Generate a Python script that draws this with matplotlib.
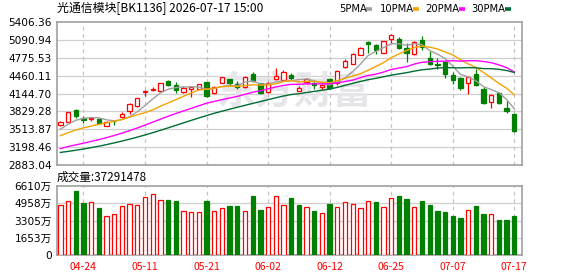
import numpy as np
import pandas as pd
import matplotlib
matplotlib.use("Agg")
import matplotlib.pyplot as plt
from matplotlib.lines import Line2D

# ---------------- data ----------------
title = "光通信模块[BK1136] 2026-07-17 15:00"
vol_title = "成交量:37291478"
watermark = "东方财富"
date_labels = ["04-24", "05-11", "05-21", "06-02", "06-12", "06-25", "07-07", "07-17"]
date_idx = [3, 11, 19, 27, 35, 43, 51, 59]
price_ticks = [2883.04, 3198.46, 3513.87, 3829.28, 4144.70, 4460.11, 4775.53, 5090.94, 5406.36]
price_tick_labels = ["2883.04", "3198.46", "3513.87", "3829.28", "4144.70",
                     "4460.11", "4775.53", "5090.94", "5406.36"]
vol_ticks = [0, 1653, 3305, 4958, 6610]
vol_tick_labels = ["0", "1653万", "3305万", "4958万", "6610万"]
legend_names = ["5PMA", "10PMA", "20PMA", "30PMA"]

opens = [3586, 3645, 3848, 3714, 3691, 3697, 3569, 3668, 3726, 3831,
         3930, 4168, 4214, 4185, 4366, 4296, 4168, 4220, 4226, 4348,
         4150, 4336, 4401, 4313, 4267, 4488, 4325, 4168, 4395, 4377,
         4470, 4197, 4348, 4336, 4255, 4401, 4336, 4604, 4674, 4831,
         5046, 4999, 4866, 5104, 5110, 4947, 4848, 5081, 4767, 4662,
         4703, 4470, 4424, 4325, 4488, 4232, 3988, 4156, 3883, 3790]
highs = [3656, 3825, 3877, 3749, 3738, 3709, 3656, 3680, 3819, 3976,
         4069, 4214, 4267, 4331, 4377, 4348, 4284, 4267, 4313, 4354,
         4278, 4441, 4406, 4371, 4447, 4523, 4336, 4354, 4587, 4558,
         4511, 4279, 4412, 4354, 4307, 4418, 4558, 4749, 4854, 4964,
         5063, 5023, 5069, 5197, 5139, 5040, 5075, 5168, 4889, 4778,
         4714, 4528, 4435, 4453, 4581, 4267, 4139, 4168, 4005, 3801]
lows = [3569, 3638, 3709, 3627, 3656, 3616, 3563, 3592, 3720, 3790,
        3906, 4092, 4180, 4185, 4278, 4150, 4162, 4075, 4220, 4075,
        4144, 4325, 4278, 4232, 4244, 4354, 4139, 4156, 4383, 4366,
        4383, 4191, 4313, 4220, 4209, 4220, 4296, 4587, 4668, 4825,
        4860, 4842, 4860, 5034, 4935, 4703, 4831, 4918, 4656, 4569,
        4412, 4313, 4209, 4139, 4284, 3953, 3883, 3959, 3796, 3465]
closes = [3645, 3819, 3743, 3685, 3709, 3621, 3645, 3656, 3784, 3964,
          4063, 4191, 4232, 4325, 4290, 4209, 4238, 4255, 4307, 4092,
          4267, 4430, 4336, 4267, 4435, 4360, 4162, 4325, 4453, 4517,
          4412, 4238, 4395, 4290, 4300, 4249, 4546, 4726, 4837, 4953,
          5011, 4906, 5063, 5185, 4947, 4866, 5057, 4964, 4674, 4639,
          4482, 4383, 4238, 4441, 4302, 3970, 4116, 3970, 3836, 3488]
volumes = [4767, 5180, 6133, 4989, 5085, 4513, 3718, 3909, 4671, 4894,
           4767, 5529, 5815, 5243, 5275, 5180, 4227, 4131, 4131, 5180,
           4227, 4481, 4703, 4703, 4227, 5657, 4322, 4576, 5625, 4767,
           5466, 4799, 4576, 4227, 4004, 4894, 4576, 5053, 4862, 4481,
           5148, 5085, 4576, 5434, 5657, 5371, 4576, 5180, 4799, 4227,
           4131, 3750, 3559, 4290, 4703, 3941, 3909, 3369, 3369, 3729]

# moving-average values at the left edge (history before the window)
ma5_head = [3515, 3600, 3672, 3705]
ma10_head = [3400, 3452, 3500, 3538, 3570, 3600, 3627, 3655, 3686]
ma20_head = [3172, 3209, 3238, 3268, 3299, 3331, 3366, 3404, 3445, 3489,
             3537, 3587, 3639, 3691, 3743, 3791, 3837, 3882, 3928]
ma30_head = [3105, 3123, 3143, 3165, 3189, 3215, 3243, 3273, 3305, 3339,
             3375, 3413, 3453, 3495, 3538, 3582, 3626, 3670, 3713, 3755,
             3796, 3832, 3867, 3902, 3936, 3970, 4003, 4036, 4069]

# ---------------- styles ----------------
RED = "#ff0000"
GREEN = "#008000"
ma_colors = ["#a0a0a0", "#f5a300", "#ff00ff", "#006c33"]
GRID = "#cfcfcf"
SPINE = "#a0a0a0"
CJK = ["Noto Sans CJK SC", "DejaVu Sans"]
NUM = ["DejaVu Sans", "Noto Sans CJK SC"]

W, H = 578, 276
fig = plt.figure(figsize=(W / 100, H / 100), dpi=100)
fig.patch.set_facecolor("white")

def fx(px):
    return px / W

def fy(py):
    return 1 - py / H

L, R = 56.5, 522.0
ax = fig.add_axes([fx(L), fy(165), fx(R) - fx(L), fy(22) - fy(165)])
axv = fig.add_axes([fx(L), fy(255.3), fx(R) - fx(L), fy(186) - fy(255.3)])

n = len(closes)
x = np.arange(n)
o = np.array(opens, float)
h = np.array(highs, float)
lo = np.array(lows, float)
c = np.array(closes, float)
v = np.array(volumes, float)

up = c >= o
# wicks
ax.vlines(x, lo, h, colors=[RED if u else GREEN for u in up], linewidth=0.9, zorder=3)
# bodies
body_bottom = np.minimum(o, c)
body_h = np.maximum(np.abs(c - o), 4)
ax.bar(x, body_h, bottom=body_bottom, width=0.56,
       facecolor=["white" if u else GREEN for u in up],
       edgecolor=[RED if u else GREEN for u in up], linewidth=0.9, zorder=4)

# moving averages
cs = pd.Series(c)
heads = [ma5_head, ma10_head, ma20_head, ma30_head]
for win, head, col in zip([5, 10, 20, 30], heads, ma_colors):
    ma = cs.rolling(win).mean().to_numpy()
    ma[:len(head)] = head
    ax.plot(x, ma, color=col, linewidth=1.0, zorder=5, solid_joinstyle="miter")

# watermark (axes-fraction position, behind the candles)
ax.text((294 - L) / (R - L), (165 - 93) / (165 - 22), watermark, fontsize=28,
        fontweight="bold", color="#e6e6ea", family=CJK, ha="center", va="center",
        zorder=1, transform=ax.transAxes)

# volume bars
vol_up = np.concatenate([[c[0] >= o[0]], c[1:] >= c[:-1]])
axv.bar(x, v, width=0.56,
        facecolor=["white" if u else GREEN for u in vol_up],
        edgecolor=[RED if u else GREEN for u in vol_up], linewidth=0.9, zorder=3)

for a in (ax, axv):
    a.set_xlim(-0.5, 60.0)
    a.set_facecolor("white")
    for s in a.spines.values():
        s.set_color(SPINE)
        s.set_linewidth(1.2)
    for xi in date_idx:
        a.axvline(xi, color="#c4c4c4", linewidth=0.9, linestyle=(0, (3, 3)), zorder=1)
    a.tick_params(length=0)

ax.set_ylim(price_ticks[0], price_ticks[-1])
ax.set_yticks(price_ticks)
ax.set_yticklabels(price_tick_labels, family=NUM, fontsize=7.6, color="black")
ax.tick_params(axis="y", pad=3.5)
ax.set_xticks([])
for t in price_ticks[1:-1]:
    ax.axhline(t, color=GRID, linewidth=0.9, zorder=0.5)

axv.set_ylim(vol_ticks[0], vol_ticks[-1])
axv.set_yticks(vol_ticks)
axv.set_yticklabels(vol_tick_labels, family=NUM, fontsize=7.6, color="black")
axv.tick_params(axis="y", pad=3.5)
for t in vol_ticks[1:-1]:
    axv.axhline(t, color=GRID, linewidth=0.9, zorder=0.5)
axv.set_xticks(date_idx)
axv.set_xticklabels(date_labels, family=CJK, fontsize=7.5, color=RED)
axv.tick_params(axis="x", pad=4.5)

# titles
fig.text(fx(57), fy(8.5), title, family=CJK, fontsize=8.6, color="black",
         ha="left", va="center")
fig.text(fx(57), fy(177.5), vol_title, family=CJK, fontsize=8.4, color="black",
         ha="left", va="center")

# legend
leg_text_x = [339, 380, 425.7, 471.7]
leg_dash_x = [(366, 371.5), (412.7, 418.5), (459, 465), (505, 511)]
for name, tx, (d0, d1), col in zip(legend_names, leg_text_x, leg_dash_x, ma_colors):
    fig.text(fx(tx), fy(8.5), name, family=NUM, fontsize=7.2, color="black",
             ha="left", va="center")
    fig.add_artist(Line2D([fx(d0), fx(d1)], [fy(8.5), fy(8.5)], color=col,
                          linewidth=2.6, solid_capstyle="butt"))

fig.savefig("out.png", dpi=100, facecolor="white")
